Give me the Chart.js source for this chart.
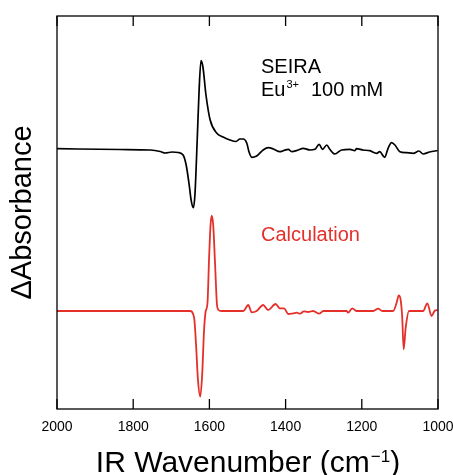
<!DOCTYPE html>
<html>
<head>
<meta charset="utf-8">
<script src="https://cdn.jsdelivr.net/npm/chart.js@4.4.1/dist/chart.umd.min.js"></script>
<style>
  html, body { margin: 0; padding: 0; background: #fff; }
  #wrap { width: 453px; height: 475px; }
</style>
</head>
<body>
<div id="wrap"><canvas id="irChart" width="453" height="475"></canvas></div>
<script>
// wavenumbers (cm-1) and absorbance (arb. units)
const seiraWn = [2000, 1834, 1755, 1729, 1716, 1698, 1682, 1669, 1661, 1653, 1648, 1642, 1638, 1632, 1627,
  1622, 1617, 1609, 1598, 1581, 1564, 1546, 1530, 1520, 1511, 1502, 1496, 1489, 1476, 1459, 1445, 1432,
  1415, 1406, 1393, 1384, 1367, 1354, 1336, 1323, 1312, 1303, 1292, 1284, 1271, 1253, 1231, 1218, 1214,
  1197, 1179, 1161, 1153, 1140, 1131, 1122, 1113, 1100, 1083, 1065, 1050, 1039, 1022, 1001];
const seiraAbs = [1.623, 1.615, 1.61, 1.595, 1.58, 1.59, 1.585, 1.56, 1.46, 1.26, 1.11, 1.033, 1.16, 1.71, 2.21,
  2.503, 2.44, 2.16, 1.91, 1.78, 1.74, 1.71, 1.695, 1.72, 1.72, 1.68, 1.59, 1.537, 1.55, 1.61, 1.633, 1.62,
  1.593, 1.603, 1.617, 1.593, 1.61, 1.627, 1.61, 1.617, 1.667, 1.617, 1.66, 1.617, 1.57, 1.61, 1.617, 1.603, 1.623,
  1.61, 1.603, 1.577, 1.593, 1.537, 1.627, 1.683, 1.66, 1.593, 1.583, 1.577, 1.60, 1.57, 1.59, 1.605];

const calcWn = [2000, 1651, 1640, 1635, 1630, 1624, 1619, 1614, 1610, 1605, 1601, 1597, 1594, 1590, 1585,
  1580, 1576, 1569, 1511, 1498, 1489, 1476, 1459, 1446, 1426, 1415, 1404, 1393, 1380, 1371, 1362, 1352,
  1341, 1328, 1312, 1301, 1240, 1236, 1225, 1214, 1170, 1157, 1146, 1118, 1109, 1103, 1098, 1094, 1090,
  1085, 1076, 1039, 1028, 1017, 1009, 1001];
const calcAbs = [0, 0, -0.07, -0.34, -0.69, -0.857, -0.64, -0.19, -0.01, 0.08, 0.51, 0.86, 0.953, 0.86, 0.46,
  0.06, 0.01, 0, 0, 0.06, -0.013, 0, 0.06, 0.01, 0.07, 0.027, 0.027, -0.03, -0.023, -0.017, -0.027, -0.003,
  -0.01, 0, -0.027, 0, 0, -0.017, 0.027, 0, 0, 0.023, 0, 0, 0.077, 0.157, 0.11, -0.057, -0.383,
  -0.173, 0, 0, 0.077, -0.05, 0, 0.01];

const xTicks = [2000, 1800, 1600, 1400, 1200, 1000];

const RED = '#e5302a';
const FONT = '"Liberation Sans", Arial, sans-serif';

function toPoints(xs, ys) {
  return xs.map((x, i) => ({ x: x, y: ys[i] }));
}

// frame, inward ticks and the text labels
const framePlugin = {
  id: 'frame',
  afterDraw(chart) {
    const ctx = chart.ctx;
    const a = chart.chartArea;
    const xs = chart.scales.x;
    ctx.save();
    ctx.strokeStyle = '#000';
    ctx.lineWidth = 1.3;
    ctx.strokeRect(a.left, a.top, a.right - a.left, a.bottom - a.top);
    xTicks.forEach(t => {
      const px = xs.getPixelForValue(t);
      ctx.beginPath();
      ctx.moveTo(px, a.bottom);
      ctx.lineTo(px, a.bottom - 10);
      ctx.moveTo(px, a.top);
      ctx.lineTo(px, a.top + 10);
      ctx.stroke();
    });

    ctx.textBaseline = 'alphabetic';
    ctx.textAlign = 'left';
    ctx.fillStyle = '#000';
    ctx.font = '20px ' + FONT;
    ctx.fillText('SEIRA', 261, 72.5);
    ctx.fillText('Eu', 261, 95.5);
    const euW = ctx.measureText('Eu').width;
    ctx.font = '11px ' + FONT;
    ctx.fillText('3+', 261 + euW + 1, 87.5);
    ctx.font = '20px ' + FONT;
    ctx.fillText('100 mM', 311, 95.5);

    ctx.fillStyle = RED;
    ctx.fillText('Calculation', 261, 241);

    // x axis title with superscript
    ctx.fillStyle = '#000';
    const t1 = 'IR Wavenumber (cm';
    ctx.font = '30px ' + FONT;
    const w1 = ctx.measureText(t1).width;
    const w3 = ctx.measureText(')').width;
    ctx.font = '17px ' + FONT;
    const w2 = ctx.measureText('\u22121').width;
    const x0 = (a.left + a.right) / 2 - (w1 + w2 + w3) / 2;
    ctx.font = '30px ' + FONT;
    ctx.fillText(t1, x0, 472);
    ctx.fillText(')', x0 + w1 + w2 + 1, 472);
    ctx.font = '17px ' + FONT;
    ctx.fillText('\u22121', x0 + w1 + 1, 462);
    ctx.restore();
  }
};

new Chart(document.getElementById('irChart').getContext('2d'), {
  type: 'line',
  data: {
    datasets: [
      {
        label: 'SEIRA',
        data: toPoints(seiraWn, seiraAbs),
        borderColor: '#000',
        borderWidth: 1.7,
        pointRadius: 0,
        cubicInterpolationMode: 'monotone'
      },
      {
        label: 'Calculation',
        data: toPoints(calcWn, calcAbs),
        borderColor: RED,
        borderWidth: 1.8,
        pointRadius: 0,
        cubicInterpolationMode: 'monotone'
      }
    ]
  },
  options: {
    responsive: false,
    animation: false,
    layout: { padding: { top: 16, right: 15, left: 0, bottom: 0 } },
    plugins: {
      legend: { display: false },
      tooltip: { enabled: false }
    },
    scales: {
      x: {
        type: 'linear',
        min: 1000,
        max: 2000,
        reverse: true,
        afterBuildTicks: scale => { scale.ticks = xTicks.map(v => ({ value: v })); },
        afterFit: scale => {
          scale.height = 66;
          scale.paddingLeft = 0;
          scale.paddingRight = 0;
        },
        grid: { display: false, drawTicks: false },
        border: { display: false },
        ticks: {
          color: '#000',
          padding: 10,
          maxRotation: 0,
          font: { family: FONT, size: 14 },
          callback: v => String(v)
        }
      },
      y: {
        min: -0.98,
        max: 2.95,
        afterFit: scale => { scale.width = 57; },
        grid: { display: false, drawTicks: false },
        border: { display: false },
        ticks: { display: false },
        title: {
          display: true,
          text: '\u0394Absorbance',
          color: '#000',
          padding: { top: 6 },
          font: { family: FONT, size: 29 }
        }
      }
    }
  },
  plugins: [framePlugin]
});
</script>
</body>
</html>
